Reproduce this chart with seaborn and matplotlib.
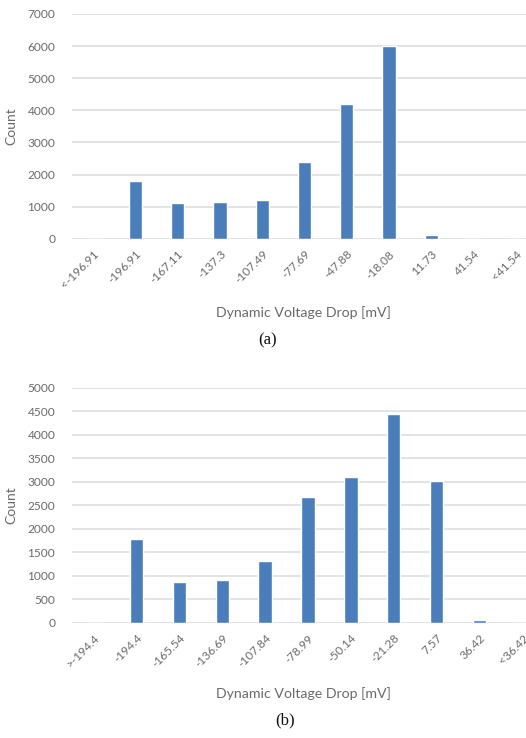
import matplotlib
matplotlib.use("Agg")
import matplotlib.pyplot as plt
import seaborn as sns
import pandas as pd

# Histogram bins and counts for the two dynamic voltage drop distributions
bins_a = ["<-196.91", "-196.91", "-167.11", "-137.3", "-107.49", "-77.69",
          "-47.88", "-18.08", "11.73", "41.54", "<41.54"]
counts_a = [0, 1800, 1110, 1140, 1210, 2400, 4190, 6000, 120, 0, 0]

bins_b = [">-194.4", "-194.4", "-165.54", "-136.69", "-107.84", "-78.99",
          "-50.14", "-21.28", "7.57", "36.42", "<36.42"]
counts_b = [0, 1780, 870, 900, 1320, 2670, 3110, 4440, 3020, 50, 0]

yticks_a = [0, 1000, 2000, 3000, 4000, 5000, 6000, 7000]
yticks_b = [0, 500, 1000, 1500, 2000, 2500, 3000, 3500, 4000, 4500, 5000]

BAR = "#4a7ebb"
TXT = "#6a6a6a"
GRID = "#dedede"

sns.set_theme(style="white")
plt.rcParams["font.family"] = ["Lato", "DejaVu Sans"]

fig = plt.figure(figsize=(5.26, 7.38), dpi=100)
W, H = 526.0, 738.0


# axes geometry in pixels: left, top, right, bottom
def rect(l, t, r, b):
    return [l / W, 1 - b / H, (r - l) / W, (b - t) / H]


def panel(box, bins, counts, yticks, caption, cap_x, cap_y, lab_y):
    l, t, r, b = box
    ax = fig.add_axes(rect(l, t, r, b))
    df = pd.DataFrame({"bin": bins, "count": counts})
    sns.barplot(data=df, x="bin", y="count", color=BAR, width=0.31,
                saturation=1, ax=ax, zorder=3)
    ax.set_ylim(0, yticks[-1])
    ax.set_yticks(yticks)
    ax.set_xlim(-0.5, len(bins) - 0.5)
    for y in yticks:
        ax.axhline(y, color=GRID, lw=1.2, zorder=1)
    for s in ax.spines.values():
        s.set_visible(False)
    ax.tick_params(axis="both", length=0, colors=TXT, labelsize=8.6)
    ax.tick_params(axis="y", pad=12)
    ax.tick_params(axis="x", pad=7)
    plt.setp(ax.get_xticklabels(), rotation=45, ha="right",
             rotation_mode="anchor")
    ax.set_ylabel("Count", color=TXT, fontsize=10, labelpad=6)
    ax.yaxis.set_label_coords(-(l - 17) / (r - l), 0.5)
    ax.set_xlabel("Dynamic Voltage Drop [mV]", color=TXT, fontsize=10.2)
    ax.xaxis.label.set_va("center")
    ax.xaxis.set_label_coords((303 - l) / (r - l), -(lab_y - b) / (b - t))
    fig.text(cap_x / W, 1 - cap_y / H, caption, ha="center", va="center",
             fontsize=12, family="Liberation Serif", color="#111111")
    return ax


panel((72, 14, 537, 238.7), bins_a, counts_a, yticks_a, "(a)", 268, 340, 313)
panel((72, 388, 544, 622.7), bins_b, counts_b, yticks_b, "(b)", 285, 720, 694)

fig.savefig("out.png", dpi=100, facecolor="white")
